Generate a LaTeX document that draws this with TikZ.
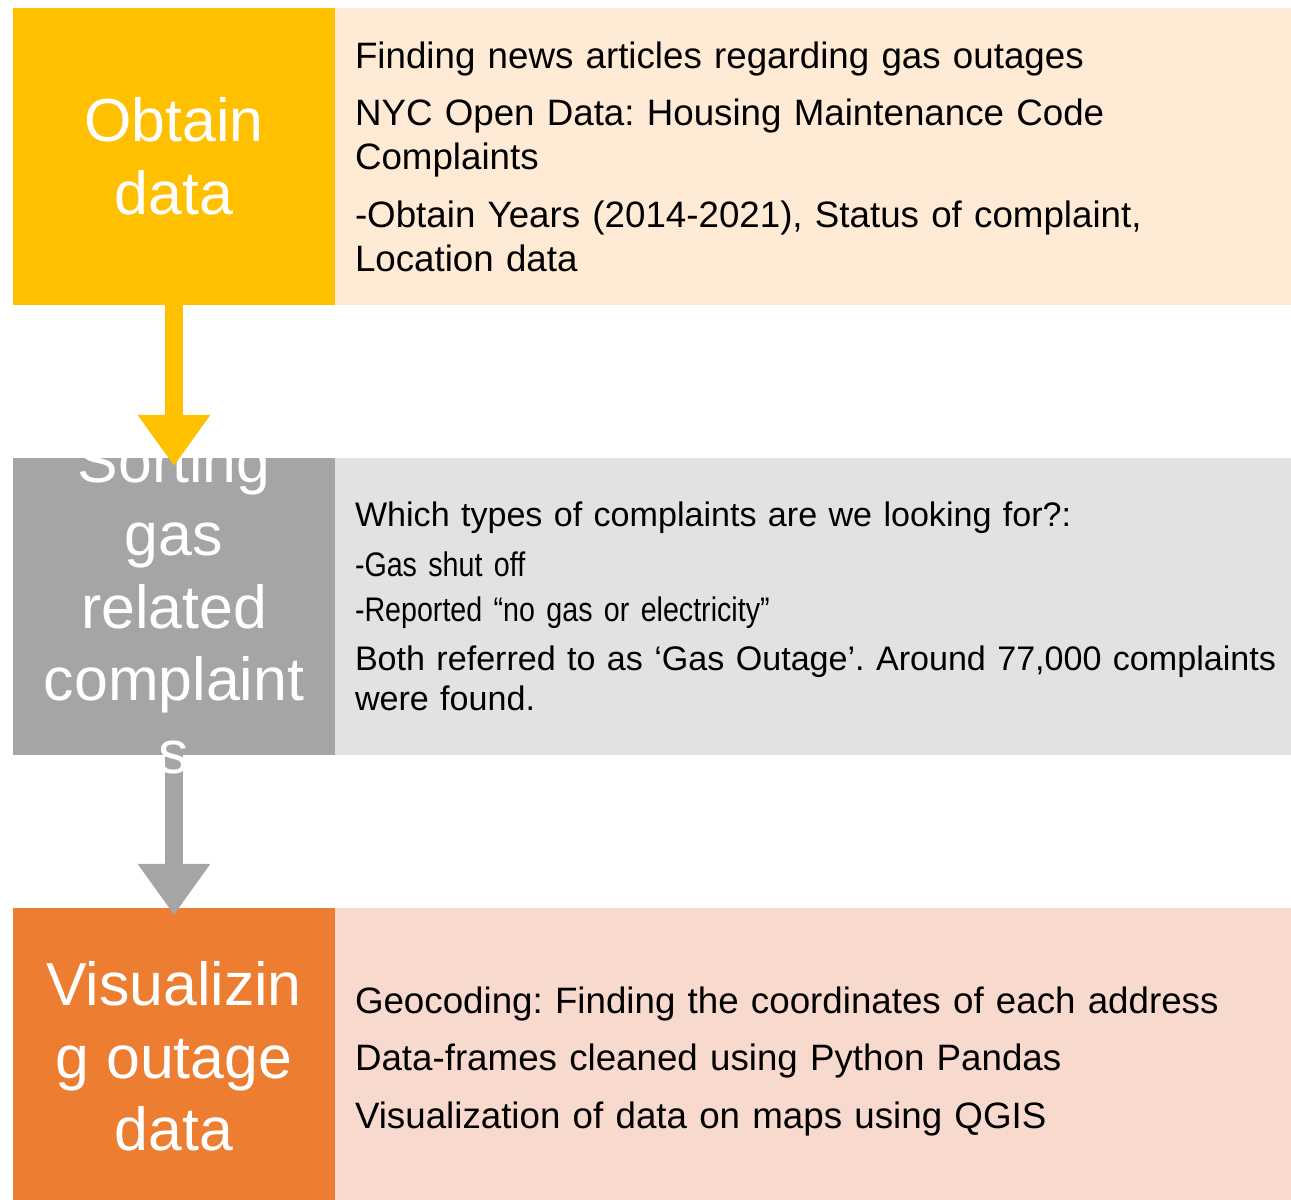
\documentclass[tikz,border=0pt]{standalone}
\usepackage{fontspec}
\setmainfont{Liberation Sans}
\newfontfamily\narrowfont{Liberation Sans}[FakeStretch=0.84]
\usetikzlibrary{positioning, arrows.meta}
\frenchspacing
\definecolor{obtaingold}{RGB}{255,192,0}
\definecolor{obtainpale}{RGB}{254,234,213}
\definecolor{sortgray}{RGB}{165,165,165}
\definecolor{sortpale}{RGB}{226,226,226}
\definecolor{visualorange}{RGB}{237,125,49}
\definecolor{visualpale}{RGB}{247,217,205}
\tikzstyle{stepbox} = [rectangle, minimum width=6.44cm, minimum height=5.94cm, inner sep=0pt, outer sep=0pt, text=white, align=center, font={\fontsize{34.6}{41.4}\selectfont}]
\tikzstyle{steptext} = [inner sep=0pt, text=white, align=center, font={\fontsize{34.6}{41.4}\selectfont}]
\tikzstyle{infobox} = [rectangle, minimum height=5.94cm, text width=19cm, inner xsep=0.4cm, inner ysep=0pt, outer sep=0pt, align=left, font={\fontsize{20.9}{24.9}\selectfont}]
\tikzstyle{flow} = [line width=0.36cm, -{Triangle[width=1.38cm, length=1.02cm]}]

\begin{document}
\begin{tikzpicture}
    \useasboundingbox (0,0) rectangle (25.82,-24);
    \node (obtain) [stepbox, fill=obtaingold, anchor=north west] at (0.26,-0.16) {Obtain\\data};
    \node (obtaininfo) [infobox, fill=obtainpale, right=0pt of obtain] {Finding news articles regarding gas outages\\[8pt]
        NYC Open Data: Housing Maintenance Code\\ Complaints\\[8pt]
        -Obtain Years (2014-2021), Status of complaint,\\ Location data};
    \node (sorting) [stepbox, fill=sortgray, below=3.06cm of obtain] {};
    \node (sortinginfo) [infobox, fill=sortpale, right=0pt of sorting, font={\fontsize{19.4}{23.2}\selectfont}] {Which types of complaints are we looking for?:\\[5.2pt]
        {\narrowfont -Gas shut off}\\[2.3pt]
        {\narrowfont -Reported “no gas or electricity”}\\[4.6pt]
        Both referred to as ‘Gas Outage’. Around 77,000 complaints\\ were found.};
    \node (visual) [stepbox, fill=visualorange, below=3.06cm of sorting] {Visualizin\\g outage\\data};
    \node (visualinfo) [infobox, fill=visualpale, anchor=north west, minimum height=6.14cm] at (visual.north east) {Geocoding: Finding the coordinates of each address\\[8pt]
        Data-frames cleaned using Python Pandas\\[8pt]
        Visualization of data on maps using QGIS};
    \draw [flow, draw=sortgray] (sorting.south) -- ([yshift=-0.14cm]visual.north);
    \node (sortlabel) [steptext] at (sorting.center) {Sorting\\gas\\related\\complaint\\s};
    \draw [flow, draw=obtaingold] (obtain.south) -- ([yshift=-0.16cm]sorting.north);
\end{tikzpicture}
\end{document}
